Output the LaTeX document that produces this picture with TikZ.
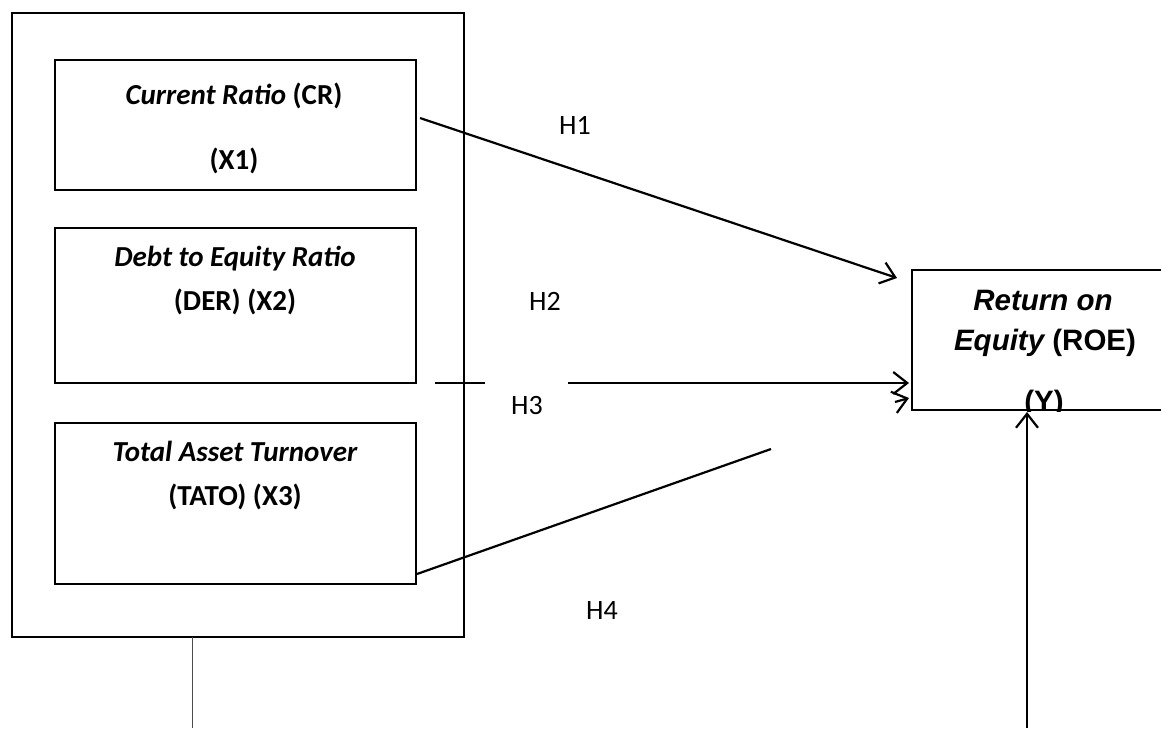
\documentclass[tikz,border=0pt]{standalone}
\usepackage{fontspec}
\setmainfont{Carlito}
\newfontfamily\arialfont{Liberation Sans}
\usetikzlibrary{arrows.meta}
\begin{document}
\begin{tikzpicture}[x=1pt,y=-1pt,
  frame/.style={draw=black,line width=2.7pt,fill=none},
  varbox/.style={draw=black,line width=2.7pt,minimum width=361pt,inner sep=0pt},
  label/.style={anchor=base,inner sep=0pt,font=\fontsize{29}{34}\selectfont\bfseries},
  roelabel/.style={anchor=base,inner sep=0pt,font=\arialfont\fontsize{29.5}{34}\selectfont\bfseries},
  hyp/.style={anchor=base,inner sep=0pt,font=\fontsize{28}{33}\selectfont},
  link/.style={line width=2.2pt},
  arrow/.style={line width=2.2pt,-{Straight Barb[length=14pt,width=22pt,line width=2.2pt]}}
]
\useasboundingbox (0,0) rectangle (1161,728);

% grouping frame for the independent variables
\node[frame,minimum width=452pt,minimum height=624pt,inner sep=0pt] (group) at (238,325) {};

% independent variables
\node[varbox,minimum height=130pt] (cr) at (235.5,125) {};
\node[varbox,minimum height=155pt] (der) at (235.5,305.5) {};
\node[varbox,minimum height=161pt] (tato) at (235.5,503.5) {};

\node[label] (crA) at (234,104) {\itshape Current Ratio\upshape{} (CR)};
\node[label] (crB) at (234,169) {(X1)};
\node[label] (derA) at (235,266) {\itshape Debt to Equity Ratio};
\node[label] (derB) at (235,310) {(DER) (X2)};
\node[label] (tatoA) at (235,461) {\itshape Total Asset Turnover};
\node[label] (tatoB) at (235,505) {(TATO) (X3)};

% dependent variable
\node[draw=black,line width=2.7pt,minimum width=260pt,minimum height=140pt,inner sep=0pt] (roe) at (1042,340) {};
\node[roelabel] (roeA) at (1043,310) {\itshape Return on};
\node[roelabel] (roeB) at (1045,350) {\itshape Equity\upshape{} (ROE)};
\begin{scope}
  \clip (roe.north west) rectangle (roe.south east);
  \node[roelabel] (roeC) at (1044,411) {(Y)};
\end{scope}

% hypothesis labels
\node[hyp] (h1) at (575,134) {H1};
\node[hyp] (h2) at (545,310) {H2};
\node[hyp] (h3) at (527,414) {H3};
\node[hyp] (h4) at (602,619) {H4};

% connector end points
\coordinate (h1s) at (420,118);
\coordinate (h1e) at (897,278);
\coordinate (h3a) at (435,383);
\coordinate (h3b) at (485,383);
\coordinate (h3c) at (568,383);
\coordinate (h3e) at (909,383);
\coordinate (h4s) at (417,574);
\coordinate (h4m) at (771,449);
\coordinate (h4t) at (895,402);
\coordinate (h4e) at (909,398);
\coordinate (simS) at (192,637);
\coordinate (simE) at (192,728);
\coordinate (ctrlS) at (1027,728);
\coordinate (ctrlE) at (1027,412);

% connectors
\draw[arrow] (h1s) -- (h1e);
\draw[link] (h3a) -- (h3b);
\draw[arrow] (h3c) -- (h3e);
\draw[link] (h4s) -- (h4m);
\draw[arrow] (h4t) -- (h4e);
\draw[line width=1pt,black!70] (simS) -- (simE);
\draw[arrow] (ctrlS) -- (ctrlE);
\end{tikzpicture}
\end{document}
